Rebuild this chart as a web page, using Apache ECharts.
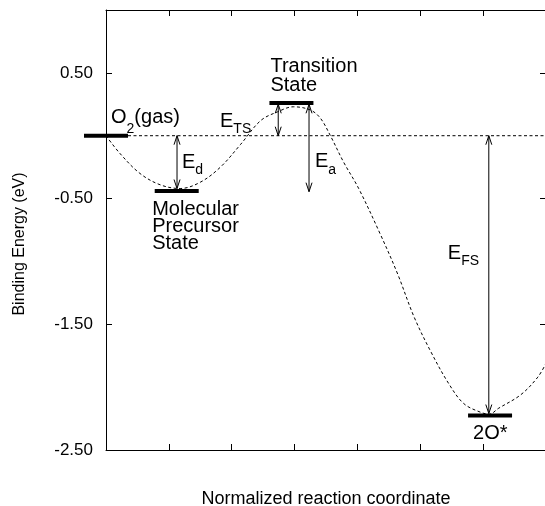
<!DOCTYPE html>
<html><head><meta charset="utf-8">
<script src="https://cdn.jsdelivr.net/npm/echarts@6/dist/echarts.min.js"></script>
<style>html,body{margin:0;padding:0;background:#fff}#c{width:545px;height:506px}</style>
</head><body><div id="c"></div>
<script>
// ---- data ----
const xMin = 0, xMax = 7;
const yMin = -2.5, yMax = 1.0;
const yTickLabels = ['-2.50', '-1.50', '-0.50', '0.50'];
const curveX = [0, 0.22, 0.54, 0.86, 1.18, 1.5, 1.82, 2.14, 2.46, 2.73, 2.98, 3.25, 3.41, 3.57, 3.78, 4.02, 4.37, 4.64, 4.9, 5.17, 5.45, 5.69, 5.96, 6.1, 6.24, 6.6, 6.87, 7.0];
const curveE = [0, -0.14, -0.30, -0.39, -0.42, -0.37, -0.25, -0.07, 0.12, 0.19, 0.23, 0.205, 0.14, 0.0, -0.21, -0.42, -0.79, -1.10, -1.44, -1.72, -1.97, -2.13, -2.20, -2.215, -2.17, -2.06, -1.92, -1.81];
const levelNames = ['{m|O}{s2|2}{m|(gas)}', 'Molecular\nPrecursor\nState', 'Transition\nState', '2O*'];
const levelX = [0, 1.125, 2.95, 6.11];
const levelE = [0, -0.44, 0.26, -2.225];
const arrowNames = ['{m|E}{s|d}', '{m|E}{s|TS}', '{m|E}{s|a}', '{m|E}{s|FS}'];
const arrowX = [1.13, 2.74, 3.23, 6.09];
const arrowFrom = [0, 0, 0.25, 0];
const arrowTo = [-0.42, 0.25, -0.445, -2.21];

// ---- styling / layout ----
const FONT = '"Liberation Sans", Arial, Helvetica, sans-serif';
const LEVEL_HALF = 0.35;
const levelLabelStyle = [
  {dx: 5, dy: -18, align: 'left', va: 'middle', lh: 20},
  {dx: -24.5, dy: 10, align: 'left', va: 'top', lh: 17},
  {dx: -21, dy: -7.7, align: 'left', va: 'bottom', lh: 19},
  {dx: -17, dy: 18, align: 'left', va: 'middle', lh: 20}
];
const arrowLabelStyle = [
  {dx: 5, dy: 0, align: 'left'},
  {dx: -27, dy: 1, align: 'right'},
  {dx: 6, dy: 14, align: 'left'},
  {dx: -41, dy: -21, align: 'left'}
];
const rich = {
  m: {fontSize: 20, fontFamily: FONT, color: '#000', lineHeight: 22},
  s: {fontSize: 14, fontFamily: FONT, color: '#000', verticalAlign: 'bottom', lineHeight: 14, padding: [0, 0, -4, 0]},
  s2: {fontSize: 14, fontFamily: FONT, color: '#000', verticalAlign: 'bottom', lineHeight: 14, padding: [0, 0, -7, 0]}
};

const chart = echarts.init(document.getElementById('c'), null, {renderer: 'canvas'});

function axisCommon(extra) {
  return Object.assign({
    type: 'value',
    axisLine: {show: true, onZero: false, lineStyle: {color: '#000', width: 1}},
    axisTick: {show: true, inside: true, length: 6, lineStyle: {color: '#000', width: 1}},
    splitLine: {show: false},
    axisLabel: {show: false}
  }, extra);
}

const option = {
  animation: false,
  backgroundColor: '#fff',
  grid: {left: 106, top: 10, width: 440, height: 440, containLabel: false, outerBoundsMode: 'none'},
  xAxis: [
    axisCommon({min: xMin, max: xMax, interval: 1, position: 'bottom',
      name: 'Normalized reaction coordinate', nameLocation: 'middle', nameGap: 40,
      nameTextStyle: {fontSize: 18, fontFamily: FONT, color: '#000'}}),
    axisCommon({min: xMin, max: xMax, interval: 1, position: 'top'})
  ],
  yAxis: [
    axisCommon({min: yMin, max: yMax, interval: 1, position: 'left',
      axisLabel: {show: true, showMaxLabel: false, margin: 13, fontSize: 17, fontFamily: FONT, color: '#000',
        formatter: function (v) { const i = Math.round(v - yMin); return yTickLabels[i] !== undefined && Math.abs(v - (yMin + i)) < 1e-6 ? yTickLabels[i] : ''; }}}),
    axisCommon({min: yMin, max: yMax, interval: 1, position: 'right'})
  ],
  graphic: [{
    type: 'text', x: 20, y: 244, rotation: Math.PI / 2,
    style: {text: 'Binding Energy (eV)', fontSize: 16, fontFamily: FONT, fill: '#000', align: 'center', verticalAlign: 'middle'}
  }],
  series: [
    {
      type: 'line', name: 'zero', data: [[levelX[0] + LEVEL_HALF, 0], [xMax, 0]],
      showSymbol: false, symbol: 'none', silent: true,
      lineStyle: {color: '#000', width: 1, type: [3, 2.5]}
    },
    {
      type: 'line', name: 'path', data: curveX.map((x, i) => [x, curveE[i]]),
      smooth: 0.35, showSymbol: false, symbol: 'none', silent: true,
      lineStyle: {color: '#000', width: 1, type: [3, 2.5]}
    },
    {
      type: 'custom', name: 'levels', data: levelX.map((x, i) => [x, levelE[i]]),
      renderItem: function (params, api) {
        const x = api.value(0), e = api.value(1);
        const p1 = api.coord([x - LEVEL_HALF, e]), p2 = api.coord([x + LEVEL_HALF, e]);
        return {type: 'line', shape: {x1: p1[0], y1: p1[1], x2: p2[0], y2: p2[1]},
          style: {stroke: '#000', lineWidth: 4, lineCap: 'butt'}};
      }
    },
    {
      type: 'custom', name: 'arrows', data: arrowX.map((x, i) => [x, arrowFrom[i], arrowTo[i]]),
      renderItem: function (params, api) {
        const x = api.value(0);
        const a = api.coord([x, api.value(1)]), b = api.coord([x, api.value(2)]);
        const dir = b[1] > a[1] ? 1 : -1;
        const hw = 3, hl = 9;
        const st = {stroke: '#000', lineWidth: 1, fill: null};
        return {type: 'group', children: [
          {type: 'line', shape: {x1: a[0], y1: a[1], x2: b[0], y2: b[1]}, style: st},
          {type: 'polyline', shape: {points: [[b[0] - hw, b[1] - dir * hl], [b[0], b[1]], [b[0] + hw, b[1] - dir * hl]]}, style: st},
          {type: 'polyline', shape: {points: [[a[0] - hw, a[1] + dir * hl], [a[0], a[1]], [a[0] + hw, a[1] + dir * hl]]}, style: st}
        ]};
      }
    },
    {
      type: 'custom', name: 'levelLabels', data: levelX.map((x, i) => [x, levelE[i]]),
      renderItem: function (params, api) {
        const i = params.dataIndex, s = levelLabelStyle[i];
        const p = api.coord([api.value(0), api.value(1)]);
        return {type: 'text', x: p[0] + s.dx, y: p[1] + s.dy,
          style: {text: levelNames[i], fontSize: 20, fontFamily: FONT, fill: '#000', align: s.align,
            verticalAlign: s.va, lineHeight: s.lh, rich: rich}};
      }
    },
    {
      type: 'custom', name: 'arrowLabels', data: arrowX.map((x, i) => [x, (arrowFrom[i] + arrowTo[i]) / 2]),
      renderItem: function (params, api) {
        const i = params.dataIndex, s = arrowLabelStyle[i];
        const p = api.coord([api.value(0), api.value(1)]);
        return {type: 'text', x: p[0] + s.dx, y: p[1] + s.dy,
          style: {text: arrowNames[i], fontSize: 20, fontFamily: FONT, fill: '#000', align: s.align,
            verticalAlign: 'middle', rich: rich}};
      }
    }
  ]
};
chart.setOption(option);
</script>
</body></html>
